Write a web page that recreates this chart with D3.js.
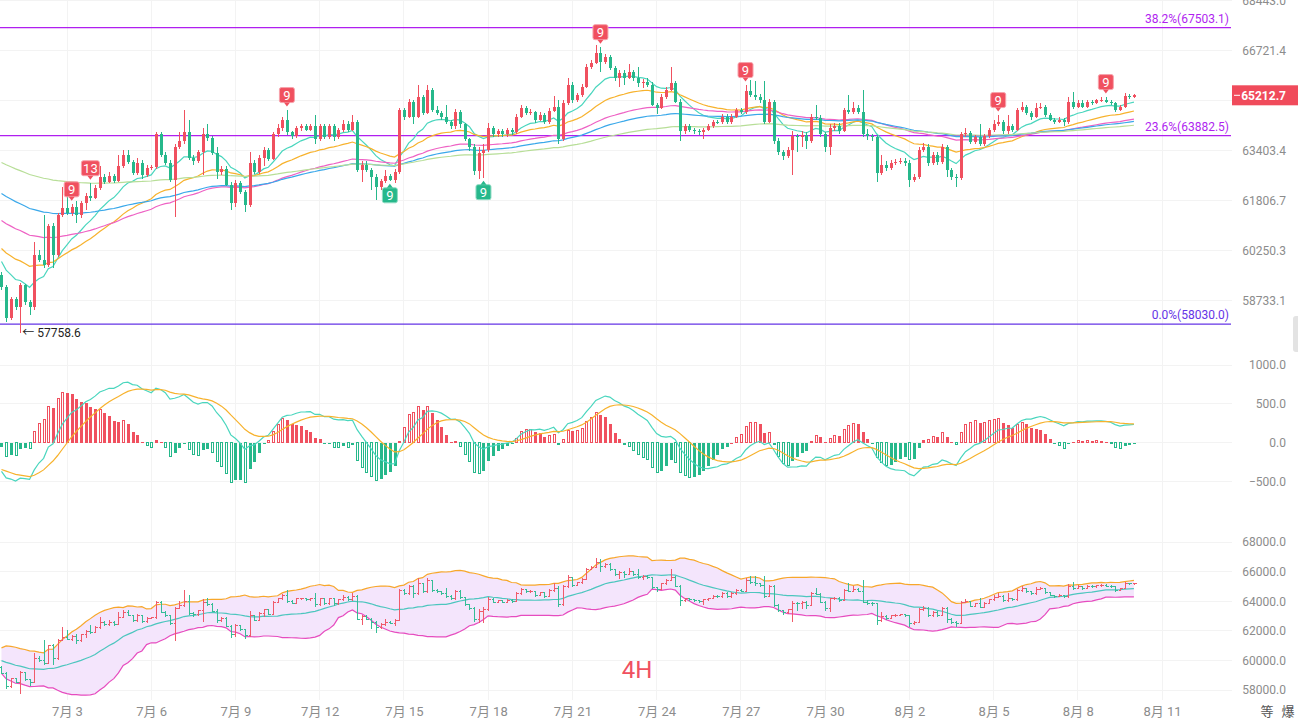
<!DOCTYPE html>
<html>
<head>
<meta charset="utf-8">
<script src="https://cdn.jsdelivr.net/npm/d3@7"></script>
<style>
html, body { margin: 0; padding: 0; background: #fff; }
svg { display: block; font-family: Roboto, "Noto Sans CJK SC", sans-serif; }
</style>
</head>
<body>
<svg id="chart" width="1298" height="720"></svg>
<script>
// ---- data (4H candles, first one opens 6/30 16:00) ----
var firstTime = new Date(2024, 5, 30, 16, 0);
var firstOpen = 59515;

var closes = [
  59125, 58210, 58775, 58535, 59185, 58685, 58535, 60115, 59965, 59815,
  61015, 60115, 61355, 61570, 61415, 61600, 61355, 61725, 61960, 61900,
  62210, 62555, 62400, 62590, 62430, 62910, 63260, 63040, 62685, 63005,
  62620, 62845, 62875, 63925, 63260, 63005, 62460, 63515, 63700, 63990,
  63165, 63070, 63355, 63925, 63795, 63325, 62715, 62810, 62305, 61725,
  62365, 62090, 61665, 63005, 62715, 63165, 63420, 63135, 63925, 64150,
  64410, 63990, 63860, 64150, 64185, 64085, 64185, 63765, 64185, 63830,
  64185, 63830, 64085, 64250, 64085, 64345, 62780, 62940, 62780, 62555,
  62245, 62430, 62590, 62460, 62715, 64740, 64510, 65005, 64510, 65170,
  64640, 65400, 64740, 64640, 64510, 64315, 64185, 64675, 64250, 63765,
  63515, 62750, 63325, 63420, 64120, 63925, 64020, 63925, 64055, 63990,
  64510, 64805, 64640, 64675, 64410, 64575, 64315, 64705, 64840, 63765,
  64970, 65570, 65070, 65235, 65500, 66170, 66305, 66645, 66340, 66510,
  66135, 65800, 65965, 65800, 66000, 65800, 65635, 65670, 65570, 64905,
  64805, 65170, 65400, 65635, 65005, 64020, 64185, 64085, 64020, 63990,
  64085, 64185, 64345, 64315, 64510, 64315, 64510, 64740, 64675, 65365,
  65235, 65170, 65070, 64345, 65005, 63700, 63355, 63230, 63420, 63860,
  63830, 63890, 63700, 64510, 64475, 63925, 63515, 64150, 64215, 64020,
  64740, 64675, 64805, 64675, 63925, 63860, 63830, 62685, 62940, 62845,
  63005, 63040, 63070, 63005, 62460, 62555, 63420, 63515, 63005, 63260,
  63040, 63515, 62780, 62555, 62525, 63925, 63955, 63670, 63830, 63605,
  63860, 64085, 64250, 64345, 64020, 64185, 64085, 64740, 64840, 64640,
  64510, 64805, 64840, 64575, 64410, 64345, 64410, 64315, 65005, 64840,
  64970, 64840, 65005, 64970, 65040, 65070, 65005, 64970, 64740, 64840,
  65200, 65170, 65212.7
];

var highs = [
  59600, 59200, 58830, 58830, 59260, 59230, 58740, 60510, 60265, 61355,
  61060, 61100, 61420, 62230, 62050, 61700, 61800, 61800, 62050, 62370,
  62300, 62900, 62650, 62700, 62650, 63250, 63420, 63420, 63100, 63150,
  63100, 62950, 62950, 63990, 63990, 63350, 63100, 63600, 63990, 64740,
  64400, 63250, 63420, 64120, 64250, 63860, 63500, 62900, 62900, 62400,
  62450, 62420, 62150, 63350, 63100, 63250, 63500, 63480, 64000, 64250,
  64500, 64740, 64050, 64200, 64250, 64250, 64250, 64575, 64250, 64250,
  64250, 64250, 64150, 64410, 64350, 64575, 64410, 63050, 63050, 62850,
  62650, 62500, 62780, 62650, 62800, 64800, 64800, 65100, 65070, 65570,
  65230, 65570, 65450, 64850, 64700, 64900, 64400, 64750, 64740, 64300,
  63800, 63600, 63500, 63600, 64300, 64200, 64100, 64100, 64150, 64120,
  64600, 64900, 64850, 64760, 64700, 64650, 64620, 64800, 65200, 65040,
  65070, 65800, 65650, 65300, 65600, 66250, 66400, 66920, 66850, 66600,
  66550, 66200, 66050, 66050, 66250, 66070, 66150, 65750, 65800, 65650,
  64950, 65250, 65500, 66150, 65700, 65100, 64250, 64250, 64150, 64100,
  64150, 64250, 64410, 64410, 64600, 64600, 64600, 64800, 64800, 65570,
  65735, 65700, 65250, 65700, 65100, 65070, 63800, 63420, 63500, 64020,
  63925, 64020, 63990, 64600, 64900, 64550, 63990, 64250, 64300, 64300,
  64800, 65230, 65000, 64900, 65400, 64100, 63950, 63900, 63250, 63050,
  63100, 63120, 63150, 63150, 63100, 62650, 63520, 63650, 63600, 63350,
  63350, 63600, 63580, 62850, 62650, 64000, 64150, 64020, 63900, 64250,
  63950, 64150, 64410, 64575, 64400, 64575, 64250, 64800, 65005, 64900,
  64700, 64970, 64950, 64900, 64640, 64450, 64500, 64450, 65170, 65330,
  65070, 65040, 65070, 65070, 65100, 65150, 65170, 65070, 65005, 64900,
  65300, 65250, 65250
];

var lows = [
  59050, 58090, 58150, 58450, 57758.6, 58600, 58300, 58450, 59900, 59700,
  59750, 59700, 60050, 61280, 61350, 61330, 61100, 61250, 61500, 61800,
  61850, 62150, 62330, 62350, 62350, 62380, 62850, 62980, 62620, 62620,
  62500, 62550, 62780, 62800, 63200, 62950, 62400, 61290, 63450, 63600,
  63100, 62950, 63000, 62620, 63700, 63250, 62500, 62600, 62250, 61510,
  61600, 62000, 61450, 61600, 62650, 62650, 62900, 63050, 63100, 63850,
  64050, 63900, 63780, 63800, 64050, 64020, 64020, 63600, 63700, 63760,
  63760, 63700, 63760, 64000, 64000, 64020, 62700, 62400, 62700, 62150,
  61820, 62150, 62350, 62430, 62350, 62650, 64400, 64450, 64250, 64450,
  64550, 64580, 64650, 64550, 64400, 64250, 64100, 64100, 64150, 63700,
  63400, 62620, 62500, 62530, 63350, 63850, 63850, 63850, 63850, 63900,
  63950, 64450, 64550, 64550, 64300, 64350, 64250, 64280, 64650, 63600,
  63700, 64900, 64950, 65000, 65150, 65450, 66100, 66250, 66000, 66250,
  66050, 65700, 65500, 65570, 65750, 65700, 65500, 65450, 65500, 64850,
  64600, 64750, 65100, 65350, 64950, 63700, 63950, 64000, 63950, 63900,
  63760, 64020, 64120, 64250, 64250, 64250, 64250, 64450, 64600, 64600,
  65150, 65050, 64950, 64250, 64300, 63600, 63260, 63100, 63150, 62620,
  63350, 63500, 63450, 63650, 64400, 63850, 63350, 63250, 64050, 63950,
  63990, 64600, 64600, 64600, 63850, 63750, 63700, 62400, 62600, 62750,
  62780, 62950, 62980, 62900, 62245, 62400, 62500, 63350, 62900, 62950,
  62950, 62980, 62560, 62450, 62245, 62450, 63850, 63600, 63600, 63550,
  63550, 63800, 64000, 64200, 63950, 63950, 64000, 64020, 64650, 64550,
  64400, 64450, 64750, 64500, 64350, 64250, 64300, 64200, 64250, 64750,
  64800, 64780, 64800, 64900, 64920, 64980, 64950, 64900, 64650, 64700,
  64800, 65100, 65120
];

// closes before the window, only used to warm up BOLL(20)
var priorCloses = [60600, 60500, 60650, 60400, 60300, 60450, 60200, 60350, 60100, 59950,
                   60050, 59800, 59700, 59850, 59600, 59500, 59650, 59400, 59515];

var maPeriods = [12, 30, 60, 80, 130];
var maSeeds   = [59912, 60310, 61177, 62024, 63015];
var maColors  = ["#4ad6be", "#f7b22d", "#ee62c4", "#3aa8ea", "#b7de97"];

var macdSeed = { ema12: 59600, ema26: 59970, dea: -345 };

var tdMarks = [
  { i: 15, t: "9", up: true }, { i: 19, t: "13", up: true }, { i: 61, t: "9", up: true },
  { i: 83, t: "9", up: false }, { i: 103, t: "9", up: false }, { i: 128, t: "9", up: true },
  { i: 159, t: "9", up: true }, { i: 213, t: "9", up: true }, { i: 236, t: "9", up: true }
];

var fibLevels = [
  { pct: "38.2%", v: 67503.1, color: "#b01ff0" },
  { pct: "23.6%", v: 63882.5, color: "#b01ff0" },
  { pct: "0.0%",  v: 58030.0, color: "#6534e6" }
];

var mainTicks = [68443.0, 66721.4, 65043.1, 63403.4, 61806.7, 60250.3, 58733.1];
var macdTicks = [1000, 500, 0, -500];
var bollTicks = [68000, 66000, 64000, 62000, 60000, 58000];
var lastPrice = 65212.7;

var RED = "#f0505f", GREEN = "#26b88b";

// ---- derived series ----
var candles = closes.map(function(c, i) {
  var o = i ? closes[i - 1] : firstOpen;
  return { i: i, t: d3.timeHour.offset(firstTime, 4 * i), o: o, c: c,
           h: Math.max(highs[i], o, c), l: Math.min(lows[i], o, c) };
});

function ema(seed, n) {
  var k = 2 / (n + 1), v = seed;
  return closes.map(function(c, i) { if (i) v += k * (c - v); return v; });
}
var maSeries = maPeriods.map(function(n, j) { return ema(maSeeds[j], n); });

var e12 = macdSeed.ema12, e26 = macdSeed.ema26, dea = macdSeed.dea;
var macd = closes.map(function(c, i) {
  if (i) { e12 += 2 / 13 * (c - e12); e26 += 2 / 27 * (c - e26); }
  var dif = e12 - e26;
  if (i) dea += 0.2 * (dif - dea);
  return { dif: dif, dea: dea, hist: 2 * (dif - dea) };
});

var allCloses = priorCloses.concat(closes);
var boll = closes.map(function(c, i) {
  var w = allCloses.slice(i, i + 20);
  var m = d3.mean(w);
  var sd = Math.sqrt(d3.mean(w, function(v) { return (v - m) * (v - m); }));
  return { mid: m, up: m + 2 * sd, dn: m - 2 * sd };
});

// ---- scales ----
var x = d3.scaleTime().domain([new Date(2024, 6, 3), new Date(2024, 7, 11)]).range([67, 1162]);
var yMain = d3.scaleLog().domain([68443.0, 58733.1]).range([0.5, 300.5]);
var yMacd = d3.scaleLinear().domain([1000, -500]).range([365, 481.5]);
var yBoll = d3.scaleLinear().domain([68000, 58000]).range([542, 690]);
var plotW = 1232;
var tagY = yMain(lastPrice);

var dateTicks = d3.range(0, 40, 3).map(function(k) { return d3.timeDay.offset(new Date(2024, 6, 3), k); });

var svg = d3.select("#chart");
var defs = svg.append("defs");
[["clipMain", 0, 0, 345], ["clipMacd", 345, 0, 175], ["clipBoll", 522, 0, 180]].forEach(function(c) {
  defs.append("clipPath").attr("id", c[0]).append("rect")
    .attr("x", 0).attr("y", c[1]).attr("width", plotW).attr("height", c[3]);
});

// ---- grid ----
var grid = svg.append("g").attr("stroke", "#f3f3f3").attr("stroke-width", 1).attr("shape-rendering", "crispEdges");
grid.selectAll(".vg").data(dateTicks).enter().append("line")
  .attr("x1", function(d) { return x(d); }).attr("x2", function(d) { return x(d); })
  .attr("y1", 0).attr("y2", 700);
[[mainTicks, yMain], [macdTicks, yMacd], [bollTicks, yBoll]].forEach(function(p) {
  grid.selectAll(null).data(p[0]).enter().append("line")
    .attr("x1", 0).attr("x2", plotW)
    .attr("y1", function(d) { return p[1](d); }).attr("y2", function(d) { return p[1](d); });
});

// ---- main panel ----
var main = svg.append("g").attr("clip-path", "url(#clipMain)");

fibLevels.forEach(function(f) {
  var yy = yMain(f.v);
  main.append("line").attr("x1", 0).attr("x2", plotW - 1).attr("y1", yy).attr("y2", yy)
    .attr("stroke", f.color).attr("stroke-width", 1.2);
  svg.append("text").attr("x", 1229).attr("y", yy - 5).attr("text-anchor", "end")
    .attr("font-size", 12).attr("fill", f.color).text(f.pct + "(" + f.v.toFixed(1) + ")");
});

maSeries.forEach(function(s, j) {
  main.append("path").datum(s)
    .attr("d", d3.line().x(function(d, i) { return x(candles[i].t); }).y(function(d) { return yMain(d); }))
    .attr("fill", "none").attr("stroke", maColors[j]).attr("stroke-width", 1.2);
});

var cg = main.selectAll(".candle").data(candles).enter().append("g").attr("shape-rendering", "crispEdges");
cg.append("line")
  .attr("x1", function(d) { return Math.round(x(d.t)) + 0.5; }).attr("x2", function(d) { return Math.round(x(d.t)) + 0.5; })
  .attr("y1", function(d) { return yMain(d.h); }).attr("y2", function(d) { return yMain(d.l); })
  .attr("stroke", function(d) { return d.c >= d.o ? RED : GREEN; });
cg.append("rect")
  .attr("x", function(d) { return Math.round(x(d.t)) - 1; }).attr("width", 3)
  .attr("y", function(d) { return yMain(Math.max(d.o, d.c)); })
  .attr("height", function(d) { return Math.max(1, Math.abs(yMain(d.o) - yMain(d.c))); })
  .attr("fill", function(d) { return d.c >= d.o ? RED : GREEN; });

// TD sequential bubbles
tdMarks.forEach(function(m) {
  var d = candles[m.i], cx = x(d.t);
  var w = m.t.length > 1 ? 18 : 15, h = 15;
  var g = svg.append("g");
  var col = m.up ? RED : GREEN;
  var tip, top;
  if (m.up) { tip = yMain(d.h) - 3; top = tip - 4 - h; }
  else { tip = yMain(d.l) + 3; top = tip + 4; }
  g.append("rect").attr("x", cx - w / 2).attr("y", top).attr("width", w).attr("height", h)
    .attr("rx", 2).attr("fill", col).attr("stroke", m.up ? "#f7a3ac" : "#8fdcc3").attr("stroke-width", 1);
  var py = m.up ? top + h : top;
  g.append("path").attr("d", "M" + (cx - 3) + "," + py + "L" + cx + "," + tip + "L" + (cx + 3) + "," + py + "Z").attr("fill", col);
  g.append("text").attr("x", cx).attr("y", top + h / 2 + 4.5).attr("text-anchor", "middle")
    .attr("font-size", 13).attr("fill", "#fff").text(m.t);
});

// lowest low label
var lowest = d3.least(candles, function(d) { return d.l; });
svg.append("text").attr("x", x(lowest.t) + 2).attr("y", yMain(lowest.l) + 4)
  .attr("font-size", 12).attr("fill", "#222").text("\u2190 " + lowest.l.toFixed(1));

// ---- MACD panel ----
var mg = svg.append("g").attr("clip-path", "url(#clipMacd)");
function grows(d, i) { return i && Math.abs(d.hist) > Math.abs(macd[i - 1].hist); }
mg.selectAll(".bar").data(macd).enter().append("rect")
  .attr("shape-rendering", "crispEdges")
  .attr("x", function(d, i) { return Math.round(x(candles[i].t)) - 1; })
  .attr("width", function(d, i) { return grows(d, i) ? 2 : 3; })
  .attr("y", function(d) { return Math.min(yMacd(0), yMacd(d.hist)); })
  .attr("height", function(d) { return Math.max(1, Math.abs(yMacd(d.hist) - yMacd(0))); })
  .attr("fill", function(d, i) { return grows(d, i) ? "#fff" : (d.hist >= 0 ? RED : GREEN); })
  .attr("stroke", function(d, i) { return grows(d, i) ? (d.hist >= 0 ? RED : GREEN) : "none"; })
  .attr("stroke-width", 1);
[["dif", "#4ad6be"], ["dea", "#f7b22d"]].forEach(function(p) {
  mg.append("path").datum(macd)
    .attr("d", d3.line().x(function(d, i) { return x(candles[i].t); }).y(function(d) { return yMacd(d[p[0]]); }))
    .attr("fill", "none").attr("stroke", p[1]).attr("stroke-width", 1.2);
});

// ---- BOLL panel ----
var bg = svg.append("g").attr("clip-path", "url(#clipBoll)");
bg.append("path").datum(boll)
  .attr("d", d3.area().x(function(d, i) { return x(candles[i].t); })
    .y0(function(d) { return yBoll(d.dn); }).y1(function(d) { return yBoll(d.up); }))
  .attr("fill", "#f4e5fc");
[["up", "#f7a72b"], ["mid", "#4cc6be"], ["dn", "#e64cbf"]].forEach(function(p) {
  bg.append("path").datum(boll)
    .attr("d", d3.line().x(function(d, i) { return x(candles[i].t); }).y(function(d) { return yBoll(d[p[0]]); }))
    .attr("fill", "none").attr("stroke", p[1]).attr("stroke-width", 1.2);
});
bg.selectAll(".ohlc").data(candles).enter().append("path")
  .attr("shape-rendering", "crispEdges")
  .attr("d", function(d) {
    var cx = Math.round(x(d.t)) + 0.5;
    return "M" + cx + "," + yBoll(d.h) + "V" + yBoll(d.l) +
      "M" + (cx - 2) + "," + yBoll(d.o) + "H" + cx +
      "M" + cx + "," + yBoll(d.c) + "H" + (cx + 2);
  })
  .attr("fill", "none")
  .attr("stroke", function(d) { return d.c >= d.o ? "#f05a6a" : "#35bd96"; })
  .attr("stroke-width", 1);

svg.append("text").attr("x", 637).attr("y", 678).attr("text-anchor", "middle")
  .attr("font-size", 24).attr("fill", "#f0505f").text("4H");

// ---- axes ----
function rightAxis(scale, ticks, fmt) {
  var g = svg.append("g").attr("transform", "translate(1232,0)")
    .call(d3.axisRight(scale).tickValues(ticks).tickFormat(fmt).tickSize(0));
  g.select(".domain").remove();
  g.selectAll("text").attr("x", 54).attr("text-anchor", "end")
    .attr("fill", "#8c8c8c").attr("font-size", 12).attr("font-family", "Roboto, sans-serif");
  return g;
}
var f1 = d3.format(".1f");
// the label under the price tag is hidden, as on the chart
rightAxis(yMain, mainTicks.filter(function(v) { return Math.abs(yMain(v) - tagY) > 12; }), f1);
rightAxis(yMacd, macdTicks, f1);
rightAxis(yBoll, bollTicks, f1);

var xa = svg.append("g").attr("transform", "translate(0,703)")
  .call(d3.axisBottom(x).tickValues(dateTicks).tickSize(0)
    .tickFormat(function(d) { return (d.getMonth() + 1) + "\u6708 " + d.getDate(); }));
xa.select(".domain").remove();
xa.selectAll("text").attr("fill", "#8c8c8c").attr("font-size", 13)
  .attr("font-family", "Roboto, 'Noto Sans CJK SC', sans-serif").attr("dy", "0.75em");

// current price tag
svg.append("rect").attr("x", 1232).attr("y", tagY - 10).attr("width", 66).attr("height", 20).attr("fill", "#f04b5b");
svg.append("line").attr("x1", 1234).attr("x2", 1240).attr("y1", tagY).attr("y2", tagY).attr("stroke", "#fff");
svg.append("text").attr("x", 1286).attr("y", tagY + 4.5).attr("text-anchor", "end")
  .attr("font-size", 12).attr("font-weight", "bold").attr("fill", "#fff").text(f1(lastPrice));

// bits of the app chrome
svg.append("rect").attr("x", 1293).attr("y", 316).attr("width", 8).attr("height", 36).attr("rx", 3).attr("fill", "#e3e3e3");
svg.append("text").attr("x", 1267).attr("y", 716).attr("text-anchor", "middle").attr("font-size", 13).attr("fill", "#555")
  .attr("font-family", "'Noto Sans CJK SC', sans-serif").text("\u7b49");
svg.append("text").attr("x", 1288).attr("y", 716).attr("text-anchor", "middle").attr("font-size", 13).attr("fill", "#555")
  .attr("font-family", "'Noto Sans CJK SC', sans-serif").text("\u7206");
</script>
</body>
</html>
